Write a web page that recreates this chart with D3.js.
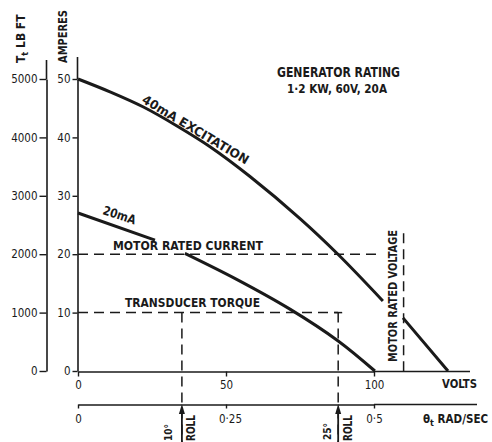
<!DOCTYPE html>
<html><head><meta charset="utf-8">
<script src="https://cdn.jsdelivr.net/npm/d3@7"></script>
<style>
body{margin:0;background:#fff}
text{font-family:"DejaVu Sans Condensed","DejaVu Sans",sans-serif;fill:#1a1a1a}
</style>
</head><body>
<svg id="c" width="492" height="442"></svg>
<script>
// ---------- data ----------
const torqueTicks = [0, 1000, 2000, 3000, 4000, 5000];
const ampTicks = [0, 10, 20, 30, 40, 50];
const voltTicks = [0, 50, 100];
const radTicks = [0, 0.25, 0.5];
const radTickLabels = ["0", "0·25", "0·5"];
// [volts, amps]; null = break in the printed line
const excitation40 = [[0,50],[10.8,47.8],[22.1,45.2],[33.3,42.0],[44.6,38.4],[58.1,33.3],[75.0,26.1],[87.9,19.95],[103.0,12.0],null,[109.8,9.1],[125.0,0]];
const excitation20 = [[0,27.05],[26.0,22.4],null,[36.1,20.15],[53.6,15.7],[71.6,10.6],[87.9,5.15],[100.3,0]];
const ratedCurrent = {amps: 20, toVolts: 102.7};
const transducerTorque = {amps: 10, toVolts: 87.9};
const ratedVoltage = {volts: 110, fromAmps: 23.6};
const rolls = [{angle: "10°", volts: 35.1}, {angle: "25°", volts: 87.9}];

// ---------- scales ----------
const svg = d3.select("#c");
const x = d3.scaleLinear().domain([0, 100]).range([78, 374]);
const rad = d3.scaleLinear().domain([0, 0.5]).range([78, 374]);
const yA = d3.scaleLinear().domain([0, 50]).range([371, 79]);
const yT = d3.scaleLinear().domain([0, 5000]).range([371, 79]);
const INK = "#1a1a1a";
const FS = 11.5;

function styleAxis(g) {
  g.attr("font-family", null).attr("font-size", null);
  g.selectAll("path.domain").attr("stroke", INK).attr("stroke-width", 1.6);
  g.selectAll(".tick line").attr("stroke", INK).attr("stroke-width", 1.4);
  g.selectAll(".tick text").attr("fill", INK).style("font-size", FS + "px");
}

// torque axis
const gT = svg.append("g").attr("transform", "translate(46.5,0)")
  .call(d3.axisLeft(yT).tickValues(torqueTicks).tickFormat(d3.format("d")).tickSize(7).tickSizeOuter(0).tickPadding(2))
  .call(styleAxis);
gT.append("line").attr("x1", 0).attr("x2", 0).attr("y1", yT(5000)).attr("y2", 60)
  .attr("stroke", INK).attr("stroke-width", 1.6);

// amps axis
const gA = svg.append("g").attr("transform", "translate(77.5,0)")
  .call(d3.axisLeft(yA).tickValues(ampTicks).tickSize(5).tickSizeOuter(0).tickPadding(2))
  .call(styleAxis);
gA.append("line").attr("x1", 0).attr("x2", 0).attr("y1", yA(50)).attr("y2", 57)
  .attr("stroke", INK).attr("stroke-width", 1.6);

// volts axis
const gV = svg.append("g").attr("transform", "translate(0,371.5)")
  .call(d3.axisBottom(x).tickValues(voltTicks).tickSize(5).tickSizeOuter(0).tickPadding(4))
  .call(styleAxis);
gV.append("line").attr("x1", x(100)).attr("x2", 470).attr("y1", 0).attr("y2", 0)
  .attr("stroke", INK).attr("stroke-width", 1.6);
gV.append("text").attr("x", 442).attr("y", 16.5).text("VOLTS").attr("text-anchor", "start")
  .attr("font-weight", "bold").attr("textLength", 35).attr("lengthAdjust", "spacingAndGlyphs")
  .style("font-size", "12px");

// rad/sec axis
const gR = svg.append("g").attr("transform", "translate(0,404.5)")
  .call(d3.axisBottom(rad).tickValues(radTicks).tickFormat((d, i) => radTickLabels[i]).tickSize(4).tickSizeOuter(0).tickPadding(6))
  .call(styleAxis);
gR.selectAll(".tick text").attr("dx", (d, i) => i === 1 ? 4 : 0);
gR.append("line").attr("x1", rad(0.5)).attr("x2", 477).attr("y1", 0).attr("y2", 0)
  .attr("stroke", INK).attr("stroke-width", 1.6);
const radLab = gR.append("text").attr("x", 423).attr("y", 18.5).attr("text-anchor", "start")
  .attr("font-weight", "bold").style("font-size", "11.5px");
radLab.append("tspan").text("θ");
radLab.append("tspan").text("t").attr("dy", 3).style("font-size", "9px");
radLab.append("tspan").text(" RAD/SEC").attr("dy", -3);

// axis titles
const tT = svg.append("text").attr("transform", "translate(25,63) rotate(-90)")
  .attr("font-weight", "bold").style("font-size", "12px");
tT.append("tspan").text("T");
tT.append("tspan").text("t").attr("dy", 3).style("font-size", "9px");
tT.append("tspan").text(" LB FT").attr("dy", -3);
svg.append("text").attr("transform", "translate(67,63) rotate(-90)")
  .attr("font-weight", "bold").style("font-size", "12px")
  .attr("textLength", 53).attr("lengthAdjust", "spacingAndGlyphs").text("AMPERES");

// ---------- dashed reference lines ----------
function dline(x1, y1, x2, y2) {
  svg.append("line").attr("x1", x1).attr("y1", y1).attr("x2", x2).attr("y2", y2)
    .attr("stroke", INK).attr("stroke-width", 1.5).attr("stroke-dasharray", "10,6").attr("fill", "none");
}
dline(x(0), yA(ratedCurrent.amps), x(ratedCurrent.toVolts), yA(ratedCurrent.amps));
dline(x(0), yA(transducerTorque.amps), x(transducerTorque.toVolts), yA(transducerTorque.amps));
dline(x(ratedVoltage.volts), yA(ratedVoltage.fromAmps), x(ratedVoltage.volts), yA(0));
rolls.forEach(r => dline(x(r.volts), yA(transducerTorque.amps), x(r.volts), 442));
// small cap on the 25° line
svg.append("line").attr("x1", x(transducerTorque.toVolts) - 4).attr("x2", x(transducerTorque.toVolts) + 4)
  .attr("y1", yA(transducerTorque.amps)).attr("y2", yA(transducerTorque.amps))
  .attr("stroke", INK).attr("stroke-width", 1.5);

// ---------- curves ----------
const line = d3.line().defined(d => d !== null).x(d => x(d[0])).y(d => yA(d[1])).curve(d3.curveCatmullRom.alpha(0.5));
[excitation40, excitation20].forEach(s => {
  svg.append("path").attr("d", line(s)).attr("fill", "none").attr("stroke", INK)
    .attr("stroke-width", 3).attr("stroke-linecap", "butt");
});

// ---------- roll arrows ----------
rolls.forEach((r, i) => {
  const cx = x(r.volts);
  svg.append("line").attr("x1", cx).attr("x2", cx).attr("y1", 412).attr("y2", 442)
    .attr("stroke", INK).attr("stroke-width", 1.8);
  svg.append("path").attr("d", `M${cx},404 L${cx - 3},414 L${cx + 3},414 Z`).attr("fill", INK);
  const off = i === 0 ? [-14, 9] : [-11, 10];
  const topA = i === 0 ? 424 : 423;
  svg.append("text").attr("transform", `translate(${cx + off[0] + 4},${topA}) rotate(-90)`)
    .attr("text-anchor", "end").attr("font-weight", "bold").style("font-size", "11px")
    .attr("textLength", 17).attr("lengthAdjust", "spacingAndGlyphs").text(r.angle);
  svg.append("text").attr("transform", `translate(${cx + off[1] + 4},415) rotate(-90)`)
    .attr("text-anchor", "end").attr("font-weight", "bold").style("font-size", "11.5px")
    .attr("textLength", 26).attr("lengthAdjust", "spacingAndGlyphs").text("ROLL");
});

// ---------- labels ----------
function label(txt, tx, ty, rot, len, fs) {
  return svg.append("text").attr("transform", `translate(${tx},${ty}) rotate(${rot})`)
    .attr("font-weight", "bold").style("font-size", fs + "px")
    .attr("textLength", len).attr("lengthAdjust", "spacingAndGlyphs").text(txt);
}
label("40mA EXCITATION", 141, 102, 31, 122, 12.5);
label("20mA", 102, 214, 18, 34, 12.5);
label("MOTOR RATED CURRENT", 113, 250, 0, 150, 13);
label("TRANSDUCER TORQUE", 125, 307, 0, 135, 13);
label("MOTOR RATED VOLTAGE", 397, 362, -90, 132, 12);
label("GENERATOR RATING", 277, 77, 0, 123, 13.5);
label("1·2 KW, 60V, 20A", 287, 93, 0, 100, 12.5);
</script>
</body></html>
